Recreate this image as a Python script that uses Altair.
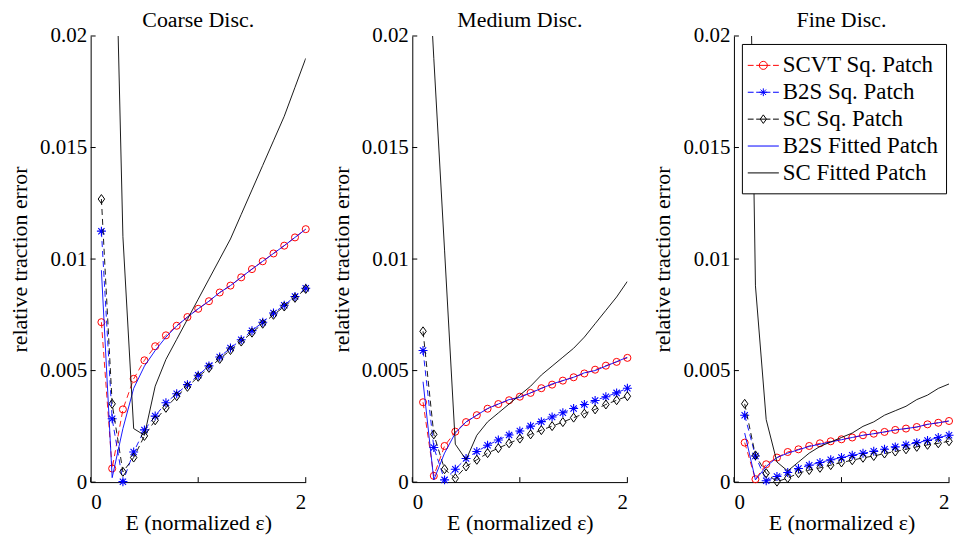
import altair as alt
import pandas as pd

X = [0.1, 0.2, 0.3, 0.4, 0.5, 0.6, 0.7, 0.8, 0.9, 1.0,
     1.1, 1.2, 1.3, 1.4, 1.5, 1.6, 1.7, 1.8, 1.9, 2.0]
X_TICKS = [0, 1, 2]
Y_TICKS = [0, 0.005, 0.01, 0.015, 0.02]

PANEL_TITLES = ["Coarse Disc.", "Medium Disc.", "Fine Disc."]
SERIES = ["SCVT Sq. Patch", "B2S Sq. Patch", "SC Sq. Patch",
          "B2S Fitted Patch", "SC Fitted Patch"]
SERIES_COLORS = ["#ff0000", "#0000ff", "#000000", "#0000ff", "#000000"]

# ---- Coarse discretisation ----
SCVT_COARSE = [0.00717, 0.00061, 0.00326, 0.00463, 0.00546, 0.00609, 0.00658, 0.00701, 0.0074, 0.00777,
               0.00811, 0.0085, 0.00881, 0.00918, 0.00955, 0.0099, 0.01025, 0.0106, 0.01097, 0.01134]
B2S_COARSE = [0.01125, 0.00284, 0.00002, 0.00135, 0.00234, 0.00296, 0.00356, 0.00396, 0.00437, 0.00479,
              0.00521, 0.00561, 0.00601, 0.00638, 0.00679, 0.00717, 0.00758, 0.00793, 0.00832, 0.00869]
SC_COARSE = [0.01269, 0.00351, 0.00046, 0.0011, 0.00207, 0.00277, 0.00333, 0.00385, 0.00427, 0.00472,
             0.00512, 0.00552, 0.00592, 0.0063, 0.0067, 0.0071, 0.0075, 0.00787, 0.00826, 0.00866]
B2S_FIT_COARSE = [0.0095, 0.0002, 0.0024, 0.0042, 0.0052, 0.0059, 0.0065, 0.0070, 0.0074, 0.00777,
                  0.00811, 0.0085, 0.00881, 0.00918, 0.00955, 0.0099, 0.01025, 0.0106, 0.01097, 0.01134]
SC_FIT_COARSE = [0.05, 0.0314, 0.0110, 0.0024, 0.0021, 0.0043, 0.0055, 0.0064, 0.0073, 0.0082,
                 0.0091, 0.0100, 0.0109, 0.0120, 0.0131, 0.0142, 0.0153, 0.0164, 0.0177, 0.0190]

# ---- Medium discretisation ----
SCVT_MEDIUM = [0.00358, 0.00028, 0.00162, 0.00226, 0.00269, 0.003, 0.00329, 0.0035, 0.00367, 0.00383,
               0.004, 0.00421, 0.00437, 0.00455, 0.0047, 0.00487, 0.00504, 0.00522, 0.00539, 0.00557]
B2S_MEDIUM = [0.0059, 0.00155, 0.0001, 0.00058, 0.00106, 0.00137, 0.00165, 0.00189, 0.00211, 0.00229,
              0.00251, 0.00271, 0.00292, 0.00311, 0.0033, 0.00348, 0.00366, 0.00383, 0.004, 0.00421]
SC_MEDIUM = [0.00676, 0.00214, 0.00058, 0.00017, 0.0007, 0.001, 0.0013, 0.00152, 0.00174, 0.00195,
             0.00214, 0.00233, 0.00251, 0.00269, 0.00289, 0.00307, 0.00326, 0.00348, 0.00367, 0.00385]
B2S_FIT_MEDIUM = [0.0045, 0.0001, 0.0013, 0.0022, 0.0027, 0.0030, 0.0033, 0.0035, 0.0037, 0.0038,
                  0.0040, 0.0042, 0.0044, 0.00455, 0.0047, 0.0049, 0.0050, 0.0052, 0.0054, 0.0056]
SC_FIT_MEDIUM = [0.028, 0.0190, 0.0104, 0.0017, 0.0010, 0.0021, 0.0027, 0.0031, 0.0035, 0.0039,
                 0.0043, 0.0048, 0.0052, 0.0056, 0.0060, 0.0065, 0.0071, 0.0077, 0.0083, 0.0090]

# ---- Fine discretisation ----
SCVT_FINE = [0.00177, 0.00013, 0.0008, 0.0011, 0.00135, 0.00147, 0.00162, 0.00174, 0.00183, 0.00192,
             0.002, 0.0021, 0.00217, 0.00225, 0.00234, 0.0024, 0.00247, 0.00259, 0.00266, 0.00274]
B2S_FINE = [0.003, 0.00117, 0.00006, 0.00025, 0.00043, 0.00061, 0.00076, 0.00088, 0.001, 0.0011,
            0.0012, 0.00129, 0.00138, 0.00147, 0.00158, 0.00167, 0.00177, 0.00187, 0.002, 0.0021]
SC_FINE = [0.00351, 0.0012, 0.0004, 0.00002, 0.00018, 0.0004, 0.00054, 0.00064, 0.00076, 0.00088,
           0.00098, 0.00109, 0.00117, 0.00128, 0.00137, 0.00147, 0.00158, 0.00167, 0.00174, 0.00183]
B2S_FIT_FINE = [0.0022, 0.0001, 0.0007, 0.0011, 0.0013, 0.00145, 0.0016, 0.0017, 0.0018, 0.0019,
                0.002, 0.0021, 0.00217, 0.00225, 0.00234, 0.0024, 0.00247, 0.00259, 0.00266, 0.00274]
SC_FIT_FINE = [0.040, 0.0088, 0.0028, 0.0009, 0.0005, 0.0009, 0.0013, 0.0016, 0.0018, 0.0020,
               0.0022, 0.0025, 0.0027, 0.0030, 0.0032, 0.0034, 0.0037, 0.0039, 0.0042, 0.0044]

PANEL_DATA = [
    [SCVT_COARSE, B2S_COARSE, SC_COARSE, B2S_FIT_COARSE, SC_FIT_COARSE],
    [SCVT_MEDIUM, B2S_MEDIUM, SC_MEDIUM, B2S_FIT_MEDIUM, SC_FIT_MEDIUM],
    [SCVT_FINE, B2S_FINE, SC_FINE, B2S_FIT_FINE, SC_FIT_FINE],
]

FONT = "Liberation Serif"
W, H = 216, 448

STAR = "M-1,0H1M0,-1V1M-0.7,-0.7L0.7,0.7M-0.7,0.7L0.7,-0.7"
DIAMOND = "M0,-1L0.72,0L0,1L-0.72,0Z"
MARKERS = [("circle", 50, 1.0), (STAR, 81, 1.1), (DIAMOND, 81, 1.0)]

DASH = "M-1.2,0H-0.75M-0.55,0H0.55M0.75,0H1.2"
LEG_SYMBOLS = [
    DASH + "M0.31,0A0.31,0.31 0 1,1 -0.31,0A0.31,0.31 0 1,1 0.31,0",
    DASH + "M-0.3,0H0.3M0,-0.3V0.3M-0.21,-0.21L0.21,0.21M-0.21,0.21L0.21,-0.21",
    DASH + "M0,-0.33L0.24,0L0,0.33L-0.24,0Z",
    "M-1.2,0H1.2",
    "M-1.2,0H1.2",
]

x_scale = alt.Scale(domain=[0, 2], nice=False, zero=False)
y_scale = alt.Scale(domain=[0, 0.02], nice=False, zero=False)
x_axis = alt.Axis(values=X_TICKS, format="d", title="E (normalized ε)",
                  labelPadding=9, titlePadding=1)
y_axis = alt.Axis(values=Y_TICKS, format="~g", title="relative traction error",
                  labelPadding=4, titlePadding=8)


def xy():
    return dict(
        x=alt.X("x:Q", scale=x_scale, axis=x_axis),
        y=alt.Y("y:Q", scale=y_scale, axis=y_axis),
    )


def make_panel(i):
    vals = PANEL_DATA[i]
    layers = []
    for k in range(3):
        base = alt.Chart(pd.DataFrame({"x": X, "y": vals[k]}))
        layers.append(base.mark_line(color=SERIES_COLORS[k], strokeDash=[6, 4],
                                     strokeWidth=0.9).encode(**xy()))
        shape, size, sw = MARKERS[k]
        layers.append(base.mark_point(shape=shape, color=SERIES_COLORS[k], filled=False,
                                      size=size, strokeWidth=sw, opacity=1).encode(**xy()))
    for k in (3, 4):
        base = alt.Chart(pd.DataFrame({"x": X, "y": vals[k]}))
        layers.append(base.mark_line(color=SERIES_COLORS[k], strokeWidth=0.9,
                                     clip=True).encode(**xy()))
    layers.append(alt.Chart(pd.DataFrame({"v": Y_TICKS})).mark_rule(color="black", strokeWidth=1).encode(
        y=alt.Y("v:Q", scale=y_scale, axis=y_axis), x=alt.value(0), x2=alt.value(5)))
    layers.append(alt.Chart(pd.DataFrame({"v": X_TICKS})).mark_rule(color="black", strokeWidth=1).encode(
        x=alt.X("v:Q", scale=x_scale, axis=x_axis), y=alt.value(H), y2=alt.value(H - 5)))
    if i == 2:
        leg = alt.Legend(title=None, orient="top-left", offset=8, padding=8, rowPadding=1,
                         symbolSize=676, symbolStrokeWidth=1, labelFont=FONT, labelFontSize=23,
                         labelOffset=6, labelLimit=400, labelColor="black",
                         strokeColor="black", fillColor="white")
        layers.append(alt.Chart(pd.DataFrame({"series": SERIES})).mark_point(
            filled=False, opacity=0, strokeWidth=1).encode(
            x=alt.value(0), y=alt.value(0),
            color=alt.Color("series:N", scale=alt.Scale(domain=SERIES, range=SERIES_COLORS), legend=leg),
            shape=alt.Shape("series:N", scale=alt.Scale(domain=SERIES, range=LEG_SYMBOLS), legend=leg),
        ))
    return alt.layer(*layers).properties(
        width=W, height=H,
        title=alt.TitleParams(PANEL_TITLES[i], font=FONT, fontSize=22, fontWeight="normal",
                              color="black", offset=-7),
    )


chart = alt.hconcat(make_panel(0), make_panel(1), make_panel(2), spacing=17).resolve_scale(
    color="independent", shape="independent"
).resolve_legend(color="independent", shape="independent").properties(
    padding={"left": 0, "top": 0, "right": 0, "bottom": 0}, background="white"
).configure_view(stroke=None).configure_axis(
    grid=False, ticks=False, tickSize=0, domainColor="black", domainWidth=1,
    labelFont=FONT, labelFontSize=21, labelColor="black",
    titleFont=FONT, titleFontSize=22, titleFontWeight="normal", titleColor="black",
)

chart.save("out.html", embed_options={"renderer": "svg", "actions": False})
